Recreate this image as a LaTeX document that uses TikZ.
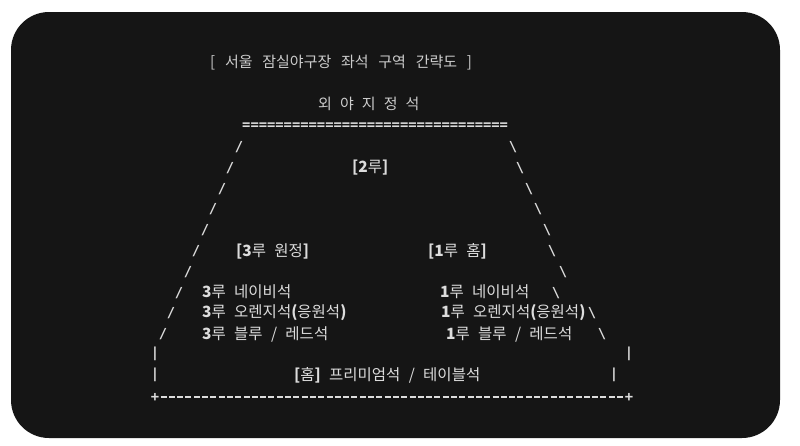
\documentclass[tikz,border=0pt]{standalone}
\usepackage{fontspec}
\setmainfont{Noto Sans CJK KR}[WordSpace=2.4]
\newfontfamily\titrefont{Noto Sans CJK KR}[WordSpace=2.9]
\newfontfamily\asciifont{DejaVu Sans Mono}
\definecolor{fond}{HTML}{151515}
\definecolor{trait}{HTML}{DCDCDC}
\definecolor{titre}{HTML}{CCCCCC}

\begin{document}
\begin{tikzpicture}[x=1pt,y=-1pt,
	txt/.style={anchor=west,inner sep=0pt,text=trait,font=\fontsize{15.5}{17}\selectfont},
	entete/.style={txt,text=titre,font=\titrefont\fontsize{15}{17}\selectfont},
	ascii/.style={inner sep=0pt,text=trait,font=\asciifont\bfseries\fontsize{13.8}{15}\selectfont}]
	\useasboundingbox[fill=white] (0,0) rectangle (800,445);
	\fill[fond,rounded corners=38pt] (11,12) rectangle (780,438);
	\node[entete] (titre) at (210,63) {[ 서울 잠실야구장 좌석 구역 간략도 ]};
	\node[txt,text=titre,font=\fontsize{15}{17}\selectfont] (exterieur) at (318,104) {외 야 지 정 석};
	\node[ascii,anchor=west] (egal) at (242,126) {================================};
	\node[txt] (deux) at (352,168) {\textbf{[2}루\textbf{]}};
	\node[txt] (troisbase) at (236,251) {\textbf{[3}루 원정\textbf{]}};
	\node[txt] (unbase) at (428,251) {\textbf{[1}루 홈\textbf{]}};
	\node[txt] (troisA) at (202,292) {\textbf{3}루 네이비석};
	\node[txt] (troisB) at (202,313) {\textbf{3}루 오렌지석\textbf{(}응원석\textbf{)}};
	\node[txt] (troisC) at (202,334) {\textbf{3}루 블루 / 레드석};
	\node[txt] (unA) at (440,292) {\textbf{1}루 네이비석};
	\node[txt] (unB) at (441,313) {\textbf{1}루 오렌지석\textbf{(}응원석\textbf{)}};
	\node[txt] (unC) at (446,334) {\textbf{1}루 블루 / 레드석};
	\node[txt] (maison) at (294,375) {\textbf{[}홈\textbf{]} 프리미엄석 / 테이블석};
	\foreach \x/\y [count=\i] in {239/147,230/168,222/189,213/209,205/230,196/251,188/272,179/293,171/313,163/334}
		\node[ascii] (g\i) at (\x,\y) {/};
	\foreach \x/\y [count=\i] in {513/147,520/168,529/189,538/209,547/230,552/251,563/272,556/293,592/313,602/334}
		\node[ascii] (d\i) at (\x,\y) {\textbackslash};
	\foreach \x/\y [count=\i] in {155/354,155/375,629/354,614/375}
		\node[ascii] (p\i) at (\x,\y) {|};
	\node[ascii] (coinG) at (155,397) {+};
	\node[ascii] (coinD) at (629,397) {+};
	\draw[trait,line width=1.5pt,dash pattern=on 6pt off 2.3pt] (coinG.east) ++(1.2pt,0) -- ([xshift=-1.2pt]coinD.west);
\end{tikzpicture}
\end{document}
